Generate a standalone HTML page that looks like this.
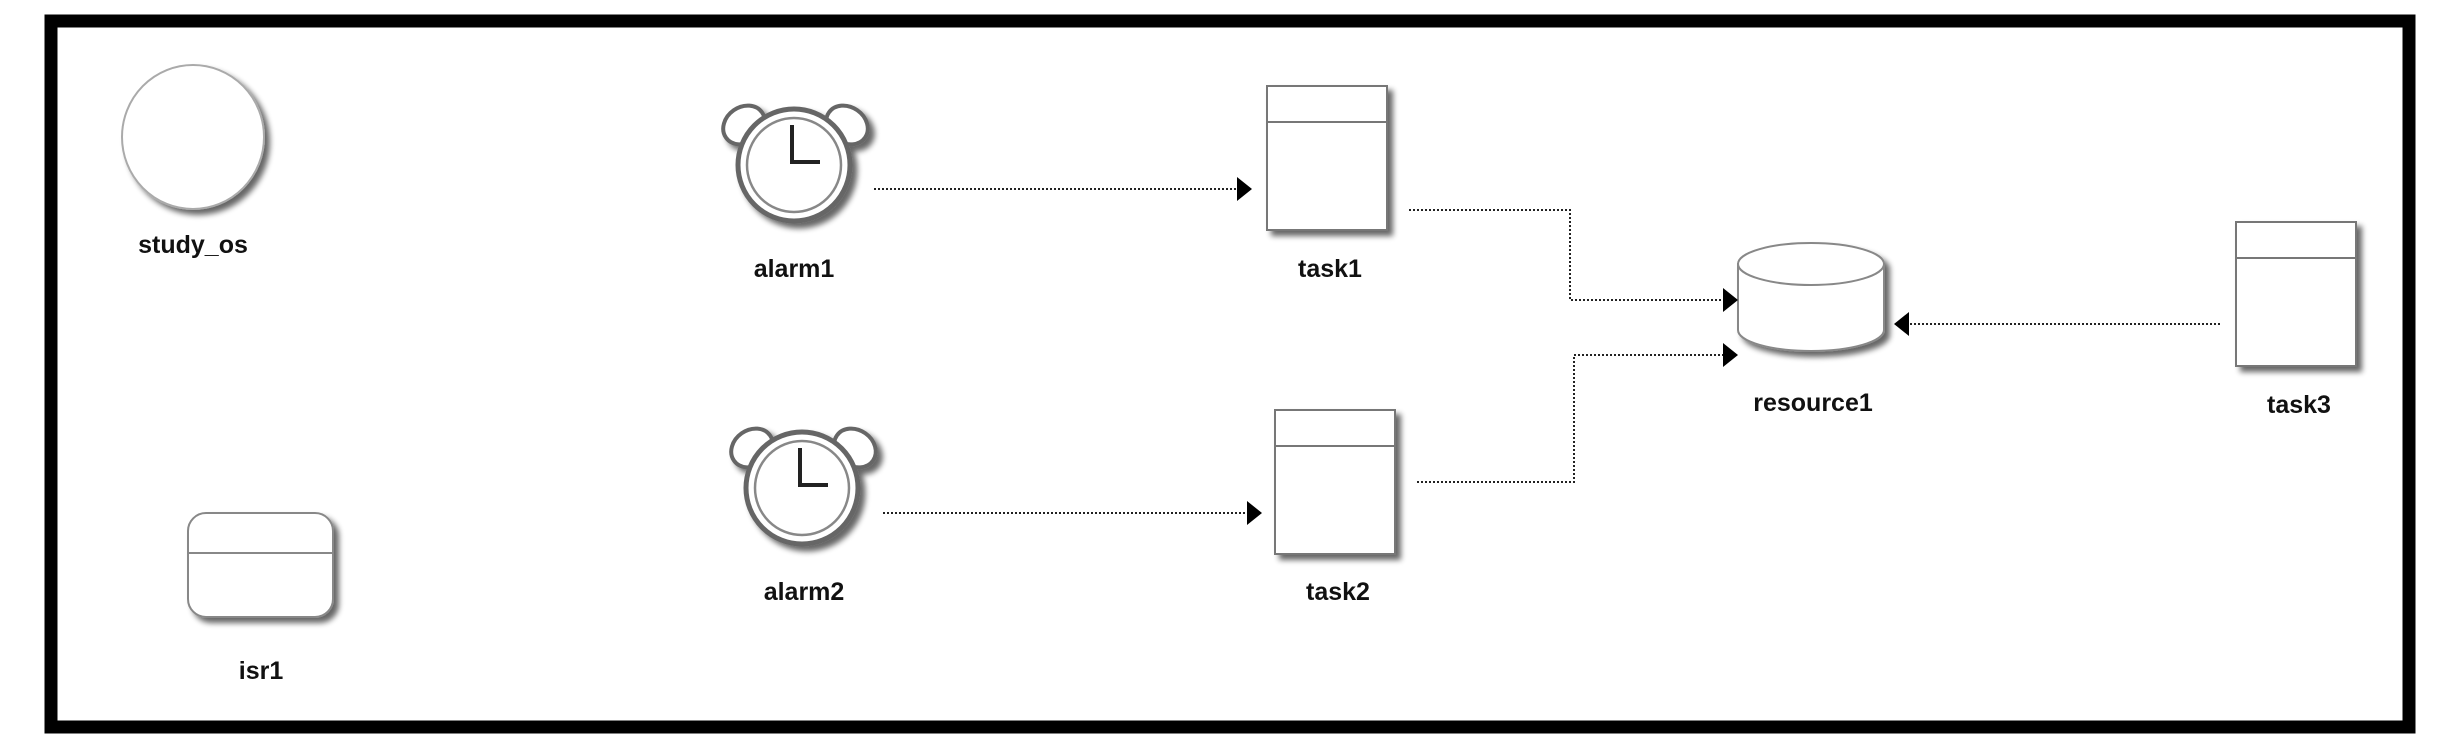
<!DOCTYPE html>
<html><head><meta charset="utf-8"><style>
html,body{margin:0;padding:0;background:#fff;}
svg{display:block;}
text{font-family:"Liberation Sans",Arial,sans-serif;font-weight:bold;font-size:25px;fill:#111;text-anchor:middle;}
</style></head><body>
<svg width="2440" height="750" viewBox="0 0 2440 750" xmlns="http://www.w3.org/2000/svg">
<defs>
<filter id="sh" x="-20%" y="-20%" width="150%" height="150%">
<feGaussianBlur in="SourceAlpha" stdDeviation="3"/>
<feOffset dx="5" dy="5"/>
<feComponentTransfer><feFuncA type="linear" slope="0.6"/></feComponentTransfer>
<feMerge><feMergeNode/><feMergeNode in="SourceGraphic"/></feMerge>
</filter>
<g id="clock">
<ellipse cx="-50" cy="-40" rx="22" ry="18" transform="rotate(-35 -50 -40)" fill="#fff" stroke="#666" stroke-width="4"/>
<ellipse cx="53" cy="-40" rx="22" ry="18" transform="rotate(35 53 -40)" fill="#fff" stroke="#666" stroke-width="4"/>
<circle cx="0" cy="0" r="56" fill="#fff" stroke="#666" stroke-width="5"/>
<circle cx="0" cy="0" r="47" fill="#fff" stroke="#888" stroke-width="2.5"/>
<polyline points="-2,-40 -2,-3 26,-3" fill="none" stroke="#222" stroke-width="4"/>
</g>
<g id="task">
<rect x="0" y="0" width="120" height="144" fill="#fff" stroke="#777" stroke-width="2"/>
<line x1="0" y1="36" x2="120" y2="36" stroke="#777" stroke-width="2"/>
</g>
</defs>
<rect x="51" y="21" width="2358" height="706" fill="#fff" stroke="#000" stroke-width="13"/>

<g filter="url(#sh)"><ellipse cx="193" cy="137" rx="71" ry="72" fill="#fff" stroke="#aaa" stroke-width="2"/></g>
<text x="193" y="253">study_os</text>

<g filter="url(#sh)"><rect x="188" y="513" width="145" height="104" rx="18" fill="#fff" stroke="#888" stroke-width="2"/>
<line x1="188" y1="553" x2="333" y2="553" stroke="#888" stroke-width="2"/></g>
<text x="261" y="679">isr1</text>

<g filter="url(#sh)"><use href="#clock" transform="translate(794,165)"/></g>
<text x="794" y="277">alarm1</text>
<g filter="url(#sh)"><use href="#clock" transform="translate(802,488)"/></g>
<text x="804" y="600">alarm2</text>

<g filter="url(#sh)"><use href="#task" transform="translate(1267,86)"/></g>
<text x="1330" y="277">task1</text>
<g filter="url(#sh)"><use href="#task" transform="translate(1275,410)"/></g>
<text x="1338" y="600">task2</text>
<g filter="url(#sh)"><use href="#task" transform="translate(2236,222)"/></g>
<text x="2299" y="413">task3</text>

<g filter="url(#sh)">
<path d="M1738,264 L1738,330 A73,21 0 0 0 1884,330 L1884,264 Z" fill="#fff" stroke="#888" stroke-width="2"/>
<ellipse cx="1811" cy="264" rx="73" ry="21" fill="#fff" stroke="#888" stroke-width="2"/>
</g>
<text x="1813" y="411">resource1</text>

<g fill="none" stroke="#222" stroke-width="2" stroke-dasharray="2,2">
<line x1="874" y1="189" x2="1240" y2="189"/>
<line x1="883" y1="513" x2="1250" y2="513"/>
<polyline points="1409,210 1570,210 1570,300 1726,300"/>
<polyline points="1417,482 1574,482 1574,355 1726,355"/>
<line x1="2220" y1="324" x2="1906" y2="324"/>
</g>
<g fill="#000">
<polygon points="1237,177 1252,189 1237,201"/>
<polygon points="1247,501 1262,513 1247,525"/>
<polygon points="1723,288 1738,300 1723,312"/>
<polygon points="1723,343 1738,355 1723,367"/>
<polygon points="1909,312 1894,324 1909,336"/>
</g>
</svg>
</body></html>
